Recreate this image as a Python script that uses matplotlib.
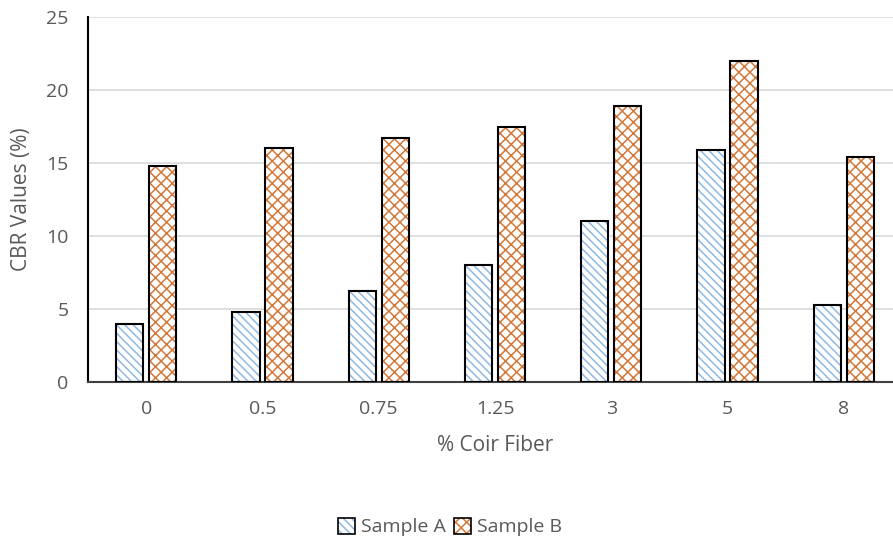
import numpy as np
import matplotlib
matplotlib.use('Agg')
import matplotlib.pyplot as plt
from matplotlib.patches import Patch

categorias = ['0', '0.5', '0.75', '1.25', '3', '5', '8']
sample_a = [4.0, 4.8, 6.2, 8.0, 11.0, 15.9, 5.3]
sample_b = [14.8, 16.0, 16.7, 17.5, 18.9, 22.0, 15.4]

plt.rcParams['font.family'] = ['Open Sans', 'DejaVu Sans']
plt.rcParams['hatch.linewidth'] = 1.1
gris = '#595959'
azul = '#8fb9e2'
naranja = '#d2783a'

fig = plt.figure(figsize=(8.93, 5.4), dpi=100)
# el eje se sale por la derecha como en el original
ax = fig.add_axes([88 / 893, 1 - 382 / 540, 814 / 893, 365 / 540])

x = np.arange(len(categorias))
w = 0.235
off = 0.142

# relleno con trama (color de trama = edgecolor) y luego borde negro encima
ax.bar(x - off, sample_a, w, color='white', edgecolor=azul, hatch='\\\\\\\\', linewidth=0, zorder=2)
ax.bar(x + off, sample_b, w, color='white', edgecolor=naranja, hatch='xxx', linewidth=0, zorder=2)
ax.bar(x - off, sample_a, w, fill=False, edgecolor='black', linewidth=1.5, zorder=3)
ax.bar(x + off, sample_b, w, fill=False, edgecolor='black', linewidth=1.5, zorder=3)

ax.set_xlim(-0.5, len(categorias) - 0.5)
ax.set_ylim(0, 25)
ax.set_yticks([0, 5, 10, 15, 20, 25])
ax.set_xticks(x)
ax.set_xticklabels(categorias)
ax.yaxis.grid(True, color='#d9d9d9', linewidth=1.2, zorder=0)
ax.set_axisbelow(True)

for s in ['top', 'right']:
    ax.spines[s].set_visible(False)
ax.spines['left'].set_linewidth(1.5)
ax.spines['bottom'].set_linewidth(1.5)
ax.spines['bottom'].set_color('#404040')
ax.tick_params(axis='both', length=0, labelsize=14, labelcolor=gris)
ax.tick_params(axis='x', pad=13)
ax.tick_params(axis='y', pad=14)

ax.set_xlabel('% Coir Fiber', fontsize=15, color=gris, labelpad=12)
ax.set_ylabel('CBR Values (%)', fontsize=15, color=gris, labelpad=10)

h1 = Patch(facecolor='white', edgecolor=azul, hatch='\\\\\\\\', linewidth=0)
h2 = Patch(facecolor='white', edgecolor=naranja, hatch='xxx', linewidth=0)
b1 = Patch(fill=False, edgecolor='black', linewidth=1.2)
leg = fig.legend([(h1, b1), (h2, b1)], ['Sample A', 'Sample B'], loc='center',
                 bbox_to_anchor=(450 / 893, 1 - 527 / 540), ncol=2, frameon=False,
                 fontsize=14, handlelength=0.9, handleheight=0.9,
                 handletextpad=0.3, columnspacing=0.4)
for t in leg.get_texts():
    t.set_color(gris)

fig.savefig('out.png', dpi=100)
